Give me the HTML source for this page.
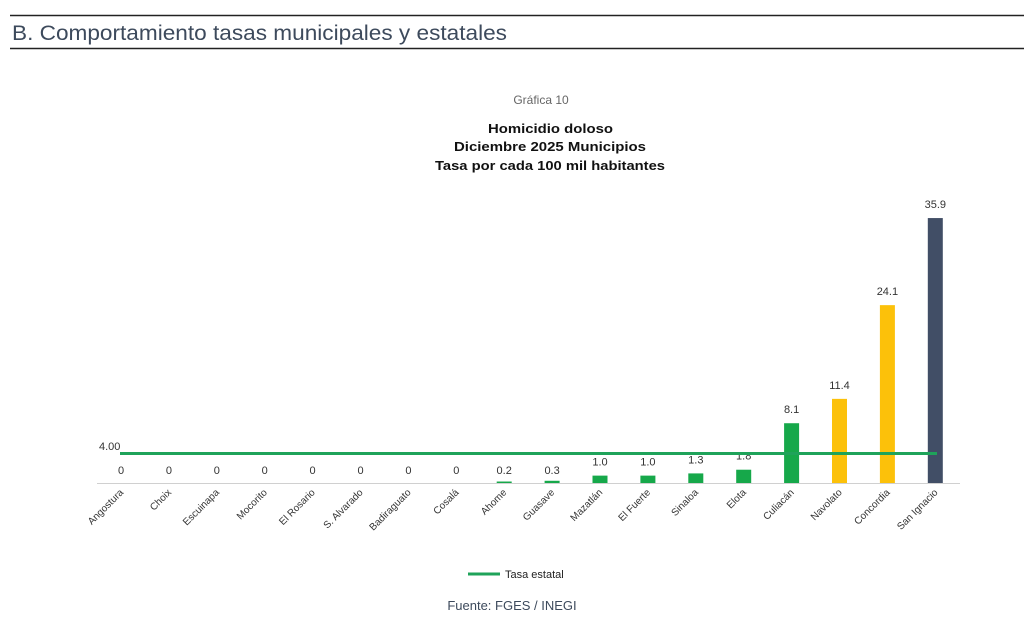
<!DOCTYPE html><html><head><meta charset="utf-8"><style>
body{margin:0;background:#fff;width:1024px;height:618px;overflow:hidden;font-family:"Liberation Sans",sans-serif}
</style></head><body>
<svg width="1024" height="618" xmlns="http://www.w3.org/2000/svg" font-family="Liberation Sans, sans-serif">
<line x1="10" y1="15.5" x2="1024" y2="15.5" stroke="#222" stroke-width="1.5"/>
<line x1="10" y1="48.5" x2="1024" y2="48.5" stroke="#222" stroke-width="1.5"/>
<text x="12" y="40" font-size="21" fill="#3d4a5c" textLength="495" lengthAdjust="spacingAndGlyphs">B. Comportamiento tasas municipales y estatales</text>
<text x="541" y="104" font-size="12" fill="#666" text-anchor="middle">Gráfica 10</text>
<g font-size="13" font-weight="bold" fill="#111">
<text x="488" y="133" textLength="125" lengthAdjust="spacingAndGlyphs">Homicidio doloso</text>
<text x="454" y="151" textLength="192" lengthAdjust="spacingAndGlyphs">Diciembre 2025 Municipios</text>
<text x="435" y="170" textLength="230" lengthAdjust="spacingAndGlyphs">Tasa por cada 100 mil habitantes</text>
</g>
<line x1="97" y1="483.5" x2="960" y2="483.5" stroke="#d0d0d0" stroke-width="1"/>
<g id="bars"></g>
<line x1="120" y1="453.5" x2="937" y2="453.5" stroke="#1fa35a" stroke-width="3"/>
<text x="99" y="450" font-size="11" fill="#333">4.00</text>
<line x1="468" y1="574" x2="500" y2="574" stroke="#1fa35a" stroke-width="3"/>
<text x="505" y="578" font-size="11" fill="#222">Tasa estatal</text>
<text x="512" y="610" font-size="13" fill="#3d4a5c" text-anchor="middle">Fuente: FGES / INEGI</text>
<script>
var d=[["Angostura",0,"0"],["Choix",0,"0"],["Escuinapa",0,"0"],["Mocorito",0,"0"],["El Rosario",0,"0"],["S. Alvarado",0,"0"],["Badiraguato",0,"0"],["Cosalá",0,"0"],["Ahome",0.2,"0.2"],["Guasave",0.3,"0.3"],["Mazatlán",1.0,"1.0"],["El Fuerte",1.0,"1.0"],["Sinaloa",1.3,"1.3"],["Elota",1.8,"1.8"],["Culiacán",8.1,"8.1"],["Navolato",11.4,"11.4"],["Concordia",24.1,"24.1"],["San Ignacio",35.9,"35.9"]];
var g=document.getElementById("bars"),ns="http://www.w3.org/2000/svg";
d.forEach(function(e,i){var x=121+i*47.9,h=e[1]*7.38,c=i<15?"#16a84a":(i<17?"#fcc10a":"#414e66");
var r=document.createElementNS(ns,"rect");r.setAttribute("x",x-7.5);r.setAttribute("y",483-h);r.setAttribute("width",15);r.setAttribute("height",Math.max(h,0));r.setAttribute("fill",c);g.appendChild(r);
var t=document.createElementNS(ns,"text");t.setAttribute("x",x);t.setAttribute("y",(e[1]<0.5?474:479-h-6));t.setAttribute("font-size","11");t.setAttribute("fill","#333");t.setAttribute("text-anchor","middle");t.textContent=e[2];g.appendChild(t);
var l=document.createElementNS(ns,"text");l.setAttribute("transform","translate("+(x+3)+",493) rotate(-45)");l.setAttribute("font-size","10");l.setAttribute("fill","#333");l.setAttribute("text-anchor","end");l.textContent=e[0];g.appendChild(l);});
</script>
</svg></body></html>
